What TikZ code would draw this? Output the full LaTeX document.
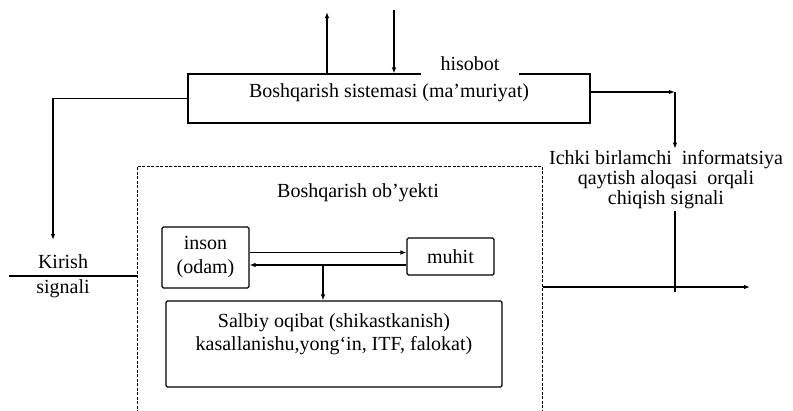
\documentclass[tikz,border=0pt]{standalone}
\usepackage{fontspec}
\setmainfont{Liberation Serif}
\usetikzlibrary{arrows.meta,positioning,calc}

\begin{document}
\begin{tikzpicture}[x=1pt, y=-1pt,
  txt/.style={font=\fontsize{20}{24}\selectfont, inner sep=2pt, align=center},
  box/.style={txt, draw, line width=1.1pt, rounded corners=1.5pt},
  objbox/.style={draw, line width=0.7pt, dash pattern=on 3pt off 1.5pt},
  arr/.style={-{Latex[length=6pt,width=4.5pt]}, line width=1.1pt},
  ln/.style={line width=1.1pt}
]
\useasboundingbox (0,0) rectangle (793,410);
\clip (0,0) rectangle (793,410);
\node[box, rounded corners=0pt, minimum width=402pt, minimum height=49pt, text depth=15pt] (sys) at (389,98.5) {Boshqarish sistemasi (ma’muriyat)};
\node[txt, fill=white, minimum width=98pt, inner ysep=5pt] (rep) at (470,64) {hisobot};
\node[objbox, minimum width=405pt, minimum height=260pt, anchor=north west] (obj) at (137,166) {};
\node[txt] (objT) at (358,193) {Boshqarish ob’yekti};
\node[box, minimum width=87pt, minimum height=61pt] (inson) at (205.5,257.5) {inson\\(odam)};
\node[box, minimum width=87pt, minimum height=37pt] (muhit) at (450.5,256.5) {muhit};
\node[box, minimum width=336pt, minimum height=86pt, font=\fontsize{20}{23}\selectfont] (salb) at (334,344) {Salbiy oqibat (shikastkanish)\\kasallanishu,yong‘in, ITF, falokat)\\\mbox{}};
\node[txt, font=\fontsize{20}{20}\selectfont] (info) at (666,180) {Ichki birlamchi\ \ informatsiya\\qaytish aloqasi\ \ orqali\\chiqish signali};
\node[txt] (kir) at (63,262) {Kirish};
\node[txt] (sig) at (63,289) {signali};
\coordinate (upOut) at (327,12);
\coordinate (downIn) at (394,10);
\coordinate (bend) at (675,92);
\coordinate (inTip) at (53,240);
\coordinate (inStart) at (9,276);
\coordinate (tap) at (323,265);
\coordinate (outEnd) at (750,287);
\coordinate (junct) at (675,292);
\draw[arr] (upOut |- sys.north) -- (upOut);
\draw[arr] (downIn) -- (downIn |- sys.north);
\draw[arr] ([yshift=6.5pt]sys.east) -- (bend);
\draw[arr] (bend) -- (bend |- info.north);
\draw[arr] (sys.west) -| (inTip);
\draw[ln] (inStart) -- (inStart -| obj.west);
\draw[arr] ([yshift=5pt]inson.east) -- ([yshift=5pt]inson.east -| muhit.west);
\draw[arr] ([yshift=-7.5pt]inson.east -| muhit.west) -- ([yshift=-7.5pt]inson.east);
\draw[arr] (tap) -- (tap |- salb.north);
\draw[arr] (obj.east |- outEnd) -- (outEnd);
\draw[ln] (junct) -- (junct |- info.south);
\end{tikzpicture}
\end{document}
